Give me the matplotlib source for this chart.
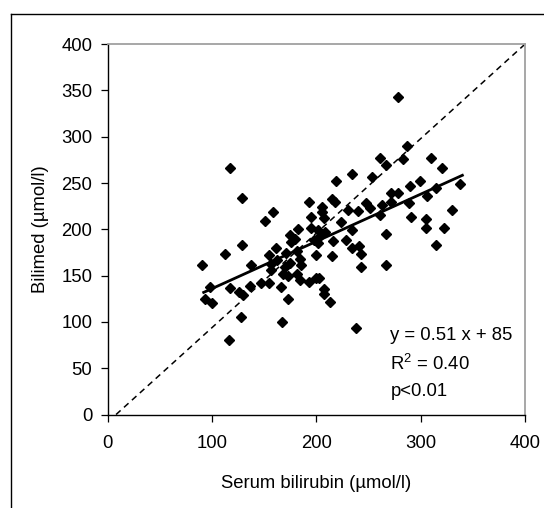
import numpy as np
import matplotlib
matplotlib.use("Agg")
import matplotlib.pyplot as plt
from matplotlib.lines import Line2D

plt.rcParams["font.family"] = ["Liberation Sans", "DejaVu Sans"]
plt.rcParams["mathtext.fontset"] = "custom"
plt.rcParams["mathtext.rm"] = "Liberation Sans"
plt.rcParams["mathtext.default"] = "regular"

# serum bilirubin vs Bilimed readings (umol/l)
serum = [278, 287, 283, 261, 267, 310, 320, 117, 234, 253, 219, 299, 338, 290,
         315, 272, 278, 306, 129, 215, 193, 218, 272, 248, 289, 263, 205, 251,
         230, 330, 240, 158, 205, 261, 195, 291, 207, 305, 151, 224, 195, 322,
         305, 182, 202, 234, 208, 267, 175, 180, 203, 198, 216, 228, 176, 202,
         129, 315, 241, 234, 161, 181, 171, 112, 243, 155, 215, 200, 184, 162,
         175, 157, 137, 90, 185, 267, 243, 170, 157, 181, 168, 173, 200, 203,
         184, 193, 147, 155, 136, 98, 117, 166, 207, 126, 130, 207, 93, 173,
         100, 213, 128, 167, 238, 116]
bilimed = [343, 290, 276, 277, 269, 277, 266, 266, 260, 257, 252, 252, 249, 247,
           245, 239, 239, 236, 234, 233, 230, 230, 230, 228, 228, 226, 224, 223,
           221, 221, 220, 219, 219, 215, 213, 213, 212, 211, 209, 208, 202, 202,
           201, 200, 199, 199, 197, 195, 194, 190, 192, 189, 187, 188, 186, 185,
           183, 183, 182, 180, 180, 177, 174, 173, 173, 172, 171, 172, 168, 167,
           164, 163, 162, 161, 161, 161, 159, 159, 156, 152, 152, 150, 148, 147,
           145, 143, 142, 142, 139, 138, 137, 138, 136, 132, 129, 130, 125, 125,
           120, 122, 105, 100, 93, 81]

fit_slope = 0.51
fit_intercept = 85
fit_range = [92, 340]
ref_x = [8, 400]
ref_y = [0, 400]

ticks = [0, 100, 200, 300, 400]
yticks = [0, 50, 100, 150, 200, 250, 300, 350, 400]

fig = plt.figure(figsize=(5.44, 5.08), dpi=100)
ax = fig.add_axes([0.198, 0.184, 0.767, 0.729])

ax.plot(ref_x, ref_y, color="black", lw=1.1, ls=(0, (4, 3)))
ax.plot(serum, bilimed, ls="none", marker="D", ms=4.8, color="black")
fx = np.array(fit_range)
ax.plot(fx, fit_slope * fx + fit_intercept, color="black", lw=2.0)

ax.set_xlim(0, 400)
ax.set_ylim(0, 400)
ax.set_xticks(ticks)
ax.set_yticks(yticks)
ax.tick_params(direction="out", length=5, width=0.9, labelsize=13.3)
ax.tick_params(axis="x", pad=10)
ax.tick_params(axis="y", pad=6)

for side in ("top", "right"):
    ax.spines[side].set_color("#a0a0a0")
    ax.spines[side].set_linewidth(1.3)
for side in ("left", "bottom"):
    ax.spines[side].set_color("black")
    ax.spines[side].set_linewidth(1.0)

ax.set_xlabel("Serum bilirubin (µmol/l)", fontsize=13.3, labelpad=16)
ax.set_ylabel("Bilimed (µmol/l)", fontsize=13.3, labelpad=9)

ax.text(271, 80.5, "y = 0.51 x + 85", fontsize=13.3, va="baseline")
ax.text(271, 48, "R$^2$ = 0.40", fontsize=13.3, va="baseline")
ax.text(271, 20, "p<0.01", fontsize=13.3, va="baseline")

# outer chart frame (only left and top edges are in view)
fx0, fy0 = 10.5 / 544, 1 - 14 / 508
fig.add_artist(Line2D([fx0, 1], [fy0, fy0], color="black", lw=1.0, transform=fig.transFigure))
fig.add_artist(Line2D([fx0, fx0], [0, fy0], color="black", lw=1.0, transform=fig.transFigure))

fig.savefig("out.png", dpi=100)
